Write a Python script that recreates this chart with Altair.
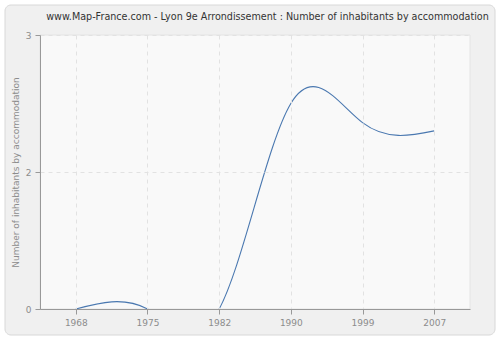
import altair as alt
import pandas as pd

years = ["1968", "1975", "1982", "1990", "1999", "2007"]
values = [0, 0, 0, 2.25, 2.04, 1.95]
title_text = "www.Map-France.com - Lyon 9e Arrondissement : Number of inhabitants by accommodation"

df = pd.DataFrame({"year": years, "value": values})

W, H = 430, 274

one = pd.DataFrame({"a": [0]})

frame = alt.Chart(one).mark_rect(
    fill="#f0f0f0", stroke="#d8d8d8", strokeWidth=1, cornerRadius=6
).encode(x=alt.value(-35), x2=alt.value(455), y=alt.value(-30), y2=alt.value(300))

plotbg = alt.Chart(one).mark_rect(
    fill="#f9f9f9", stroke="#e4e4e4", strokeWidth=1
).encode(x=alt.value(0), x2=alt.value(W), y=alt.value(0), y2=alt.value(H))

title = alt.Chart(one).mark_text(
    text=title_text, font="DejaVu Sans", fontSize=9.6, color="#333333",
    align="center", baseline="alphabetic"
).encode(x=alt.value(227.5), y=alt.value(-15))

axis_common = dict(grid=True, gridDash=[4, 4], gridColor="#e2e2e2",
                   domainColor="#999999", tickColor="#999999", tickSize=5,
                   labelColor="#8c8c8c", labelFont="DejaVu Sans", labelFontSize=9,
                   labelPadding=4, zindex=1)

line = alt.Chart(df).mark_line(
    interpolate="natural", color="#4a78b0", strokeWidth=1.1, clip=True
).encode(
    x=alt.X("year:O", sort=years,
            scale=alt.Scale(type="point", padding=0.5),
            axis=alt.Axis(title=None, labelAngle=0, **axis_common)),
    y=alt.Y("value:Q", scale=alt.Scale(domain=[0, 3], nice=False, zero=True),
            axis=alt.Axis(values=[0, 1.5, 3], format=".0f",
                          title="Number of inhabitants by accommodation",
                          titleColor="#8c8c8c", titleFont="DejaVu Sans",
                          titleFontSize=9, titleFontWeight="normal", titlePadding=5,
                          **axis_common)),
)

chart = alt.layer(frame, plotbg, title, line).properties(
    width=W, height=H,
    autosize=alt.AutoSizeParams(type="none"),
    padding={"left": 40, "top": 35, "right": 30, "bottom": 31},
    background="white",
).configure_view(stroke=None)

chart.save("out.html", embed_options={"renderer": "svg", "actions": False})
